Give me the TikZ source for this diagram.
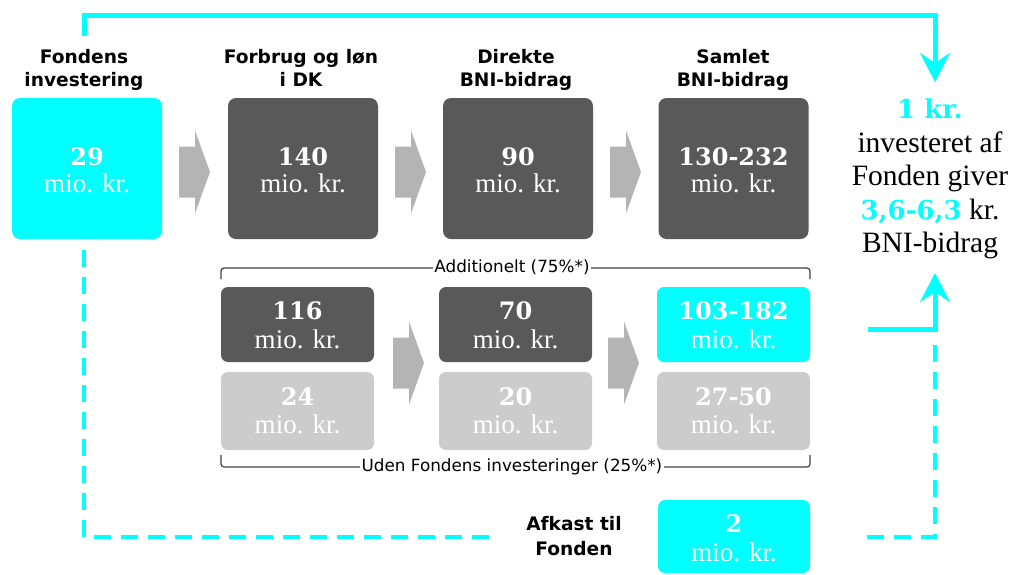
\documentclass[tikz,border=0pt]{standalone}
\usepackage{fontspec}
\setmainfont{Liberation Serif}
\setsansfont{DejaVu Sans}
\newfontfamily\digf{DejaVu Serif}
\usetikzlibrary{arrows.meta}
\definecolor{cy}{RGB}{0,255,255}
\definecolor{dk}{RGB}{89,89,89}
\definecolor{lt}{RGB}{204,204,204}
\definecolor{ag}{RGB}{180,180,180}
\definecolor{br}{RGB}{64,64,64}
\newcommand\numf{\digf\bfseries\fontsize{24}{24}\selectfont}
\newcommand\miof{\fontsize{27}{27}\selectfont}
\newcommand\rtf{\fontsize{29.5}{29.5}\selectfont}
\begin{document}
\begin{tikzpicture}[x=1pt,y=-1pt,
  bigbox/.style={rounded corners=8pt,minimum width=150pt,minimum height=141pt,inner sep=0pt},
  smbox/.style={rounded corners=7pt,minimum width=153pt,inner sep=0pt},
  num/.style={anchor=base,text=white,font=\numf,inner sep=0pt},
  mio/.style={anchor=base,text=white,font=\miof,inner sep=0pt},
  ttl/.style={anchor=base,font=\sffamily\bfseries\fontsize{18.6}{18.6}\selectfont,inner sep=0pt},
  brl/.style={font=\sffamily\fontsize{16.8}{16.8}\selectfont,fill=white,inner sep=1.5pt},
  rt/.style={anchor=base,font=\rtf,inner sep=0pt},
  brk/.style={draw=br,line width=1.2pt,rounded corners=3pt},
  cyl/.style={draw=cy,line width=5pt,miter limit=10},
  cyd/.style={draw=cy,line width=4pt,dash pattern=on 17pt off 10pt},
  tip/.style={-{Stealth[length=29pt,width=30pt,inset=10pt]}}]
\useasboundingbox[fill=white] (0,0) rectangle (1013,574);
\newcommand\chev[2]{\fill[ag] (#1,#2-25.5) -- (#1+16,#2-25.5) -- (#1+16,#2-41.5) -- (#1+31,#2) -- (#1+16,#2+41.5) -- (#1+16,#2+25.5) -- (#1,#2+25.5) -- cycle;}

% titles
\node[ttl] (t1a) at (84,63) {Fondens};
\node[ttl] (t1b) at (84,86) {investering};
\node[ttl] (t2a) at (301,63) {Forbrug og løn};
\node[ttl] (t2b) at (301,86) {i DK};
\node[ttl] (t3a) at (516,63) {Direkte};
\node[ttl] (t3b) at (516,86) {BNI-bidrag};
\node[ttl] (t4a) at (733,63) {Samlet};
\node[ttl] (t4b) at (733,86) {BNI-bidrag};

% top boxes
\node[bigbox,fill=cy] (b1) at (87,168.5) {};
\node[bigbox,fill=dk] (b2) at (303,168.5) {};
\node[bigbox,fill=dk] (b3) at (518,168.5) {};
\node[bigbox,fill=dk] (b4) at (733.5,168.5) {};
\node[num] (n1) at (87,165) {29};
\node[mio] (m1) at (87,192) {mio. kr.};
\node[num] (n2) at (303,165) {140};
\node[mio] (m2) at (303,192) {mio. kr.};
\node[num] (n3) at (518,165) {90};
\node[mio] (m3) at (518,192) {mio. kr.};
\node[num] (n4) at (733.5,165) {130-232};
\node[mio] (m4) at (733.5,192) {mio. kr.};

% top chevrons
\chev{179}{172}
\chev{395}{172}
\chev{610}{172}

% brackets
\draw[brk] (221,279) -- (221,268) -- (810,268) -- (810,279);
\node[brl] (l1) at (512,267) {Additionelt (75\%*)};
\draw[brk] (221,455) -- (221,467) -- (810,467) -- (810,455);
\node[brl] (l2) at (512,467) {Uden Fondens investeringer (25\%*)};

% middle boxes
\node[smbox,fill=dk,minimum height=75pt] (d1) at (297.5,324.5) {};
\node[smbox,fill=lt,minimum height=78pt] (e1) at (297.5,411) {};
\node[smbox,fill=dk,minimum height=75pt] (d2) at (515.5,324.5) {};
\node[smbox,fill=lt,minimum height=78pt] (e2) at (515.5,411) {};
\node[smbox,fill=cy,minimum height=75pt] (d3) at (733.5,324.5) {};
\node[smbox,fill=lt,minimum height=78pt] (e3) at (733.5,411) {};
\node[num] (dn1) at (297.5,319) {116};
\node[mio] (dm1) at (297.5,348) {mio. kr.};
\node[num] (en1) at (297.5,405) {24};
\node[mio] (em1) at (297.5,433) {mio. kr.};
\node[num] (dn2) at (515.5,319) {70};
\node[mio] (dm2) at (515.5,348) {mio. kr.};
\node[num] (en2) at (515.5,405) {20};
\node[mio] (em2) at (515.5,433) {mio. kr.};
\node[num] (dn3) at (733.5,319) {103-182};
\node[mio] (dm3) at (733.5,348) {mio. kr.};
\node[num] (en3) at (733.5,405) {27-50};
\node[mio] (em3) at (733.5,433) {mio. kr.};

% middle chevrons
\chev{393}{363}
\chev{608}{363}

% bottom
\node[ttl] (af1) at (574,530) {Afkast til};
\node[ttl] (af2) at (574,555) {Fonden};
\node[smbox,fill=cy,minimum width=152pt,minimum height=73pt] (bb) at (734,536.5) {};
\node[num] (bn) at (734,532) {2};
\node[mio] (bm) at (734,561) {mio. kr.};

% right text
\node[rt,text=cy,font=\digf\bfseries\fontsize{26}{26}\selectfont] (r1) at (930,118) {1 kr.};
\node[rt] (r2) at (930,152) {investeret af};
\node[rt] (r3) at (930,185) {Fonden giver};
\node[rt] (r4) at (930,219) {\textcolor{cy}{\digf\bfseries\fontsize{26}{26}\selectfont 3,6-6,3} kr.};
\node[rt] (r5) at (930,252) {BNI-bidrag};

% connectors
\coordinate (c1) at (84,36);
\coordinate (c2) at (935,15);
\coordinate (a1) at (935,82);
\draw[cyl,tip] (c1) |- (c2) -- (a1);
\coordinate (c3) at (868,329);
\coordinate (a2) at (935,273);
\draw[cyl,tip] (c3) -| (a2);
\coordinate (c4) at (84,250);
\coordinate (c5) at (497,537);
\draw[cyd] (c4) |- (c5);
\coordinate (c6) at (867,537);
\coordinate (c7) at (935,338);
\draw[cyd] (c6) -| (c7);
\end{tikzpicture}
\end{document}
